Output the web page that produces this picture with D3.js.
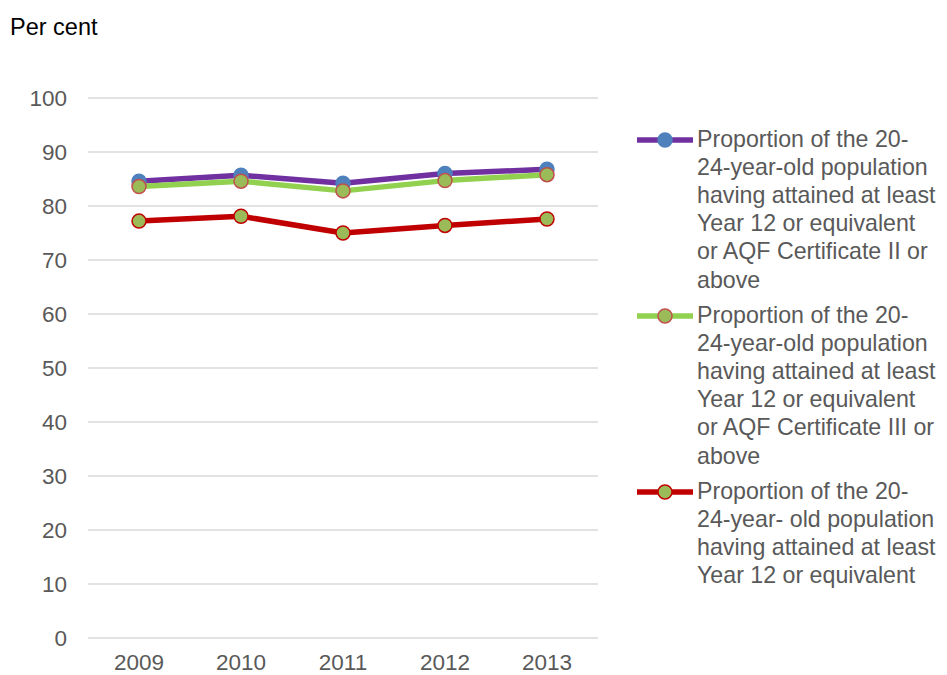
<!DOCTYPE html>
<html>
<head>
<meta charset="utf-8">
<script src="https://cdn.jsdelivr.net/npm/d3@7"></script>
<style>
	body { margin: 0; background: #fff; }
	text { font-family: "Liberation Sans", Arial, sans-serif; fill: #595959; }
</style>
</head>
<body>
<svg id="chart" width="947" height="675"></svg>
<script>
	"use strict";

	// data
	var years = ["2009", "2010", "2011", "2012", "2013"];
	var cert2_values = [84.6, 85.7, 84.2, 86.0, 86.8];
	var cert3_values = [83.6, 84.6, 82.8, 84.7, 85.8];
	var year12_values = [77.2, 78.1, 75.0, 76.4, 77.6];
	var y_ticks = [0, 10, 20, 30, 40, 50, 60, 70, 80, 90, 100];

	var series = [
		{ name: "Proportion of the 20-24-year-old population having attained at least Year 12 or equivalent or AQF Certificate II or above",
		  lines: ["Proportion of the 20-", "24-year-old population", "having attained at least", "Year 12 or equivalent", "or AQF Certificate II or", "above"],
		  values: cert2_values, line: "#7030A0", fill: "#4F81BD", stroke: "#4F81BD" },
		{ name: "Proportion of the 20-24-year-old population having attained at least Year 12 or equivalent or AQF Certificate III or above",
		  lines: ["Proportion of the 20-", "24-year-old population", "having attained at least", "Year 12 or equivalent", "or AQF Certificate III or", "above"],
		  values: cert3_values, line: "#92D050", fill: "#9BBB59", stroke: "#C0504D" },
		{ name: "Proportion of the 20-24-year- old population having attained at least Year 12 or equivalent",
		  lines: ["Proportion of the 20-", "24-year- old population", "having attained at least", "Year 12 or equivalent"],
		  values: year12_values, line: "#C00000", fill: "#9BBB59", stroke: "#C00000" }
	];

	var svg = d3.select("#chart");

	var x = d3.scaleBand().domain(years).range([88, 598]);
	var y = d3.scaleLinear().domain([0, 100]).range([638, 98]);

	svg.append("text").attr("x", 10).attr("y", 35)
		.attr("font-size", 23.5).style("fill", "#000").text("Per cent");

	// gridlines
	svg.append("g").selectAll("line").data(y_ticks).enter().append("line")
		.attr("x1", 88).attr("x2", 598)
		.attr("y1", function(d){ return y(d); })
		.attr("y2", function(d){ return y(d); })
		.attr("stroke", "#D9D9D9").attr("stroke-width", 1.3);

	// y axis labels
	var y_axis = svg.append("g").attr("transform", "translate(76,0)")
		.call(d3.axisLeft(y).tickValues(y_ticks).tickSize(0).tickPadding(9));
	y_axis.select(".domain").remove();
	y_axis.selectAll("text").attr("font-size", 22.5).attr("font-family", null).style("fill", "#595959");

	// x axis labels
	var x_axis = svg.append("g").attr("transform", "translate(0,670)")
		.call(d3.axisBottom(x).tickSize(0).tickPadding(0));
	x_axis.select(".domain").remove();
	x_axis.selectAll("text").attr("dy", 0).attr("font-size", 22.5).attr("font-family", null).style("fill", "#595959");

	var line_gen = d3.line()
		.x(function(d, i){ return x(years[i]) + x.bandwidth() / 2; })
		.y(function(d){ return y(d); });

	series.forEach(function(s){
		var g = svg.append("g");
		g.append("path").datum(s.values)
			.attr("d", line_gen)
			.attr("fill", "none")
			.attr("stroke", s.line)
			.attr("stroke-width", 5.5)
			.attr("stroke-linejoin", "round");
		g.selectAll("circle").data(s.values).enter().append("circle")
			.attr("cx", function(d, i){ return x(years[i]) + x.bandwidth() / 2; })
			.attr("cy", function(d){ return y(d); })
			.attr("r", 7)
			.attr("fill", s.fill)
			.attr("stroke", s.stroke)
			.attr("stroke-width", 1.5);
	});

	// legend
	var legend_top = [140, 316, 492];
	var line_h = 28.1;
	series.forEach(function(s, k){
		var ly = legend_top[k];
		var lg = svg.append("g").attr("class", "legend");
		lg.append("line")
			.attr("x1", 637).attr("x2", 693).attr("y1", ly).attr("y2", ly)
			.attr("stroke", s.line).attr("stroke-width", 5.5);
		lg.append("circle").attr("cx", 665).attr("cy", ly).attr("r", 7)
			.attr("fill", s.fill).attr("stroke", s.stroke).attr("stroke-width", 1.5);
		var t = lg.append("text").attr("x", 697).attr("y", ly + 7).attr("font-size", 23.2);
		s.lines.forEach(function(str, i){
			t.append("tspan").attr("x", 697).attr("dy", i === 0 ? 0 : line_h).text(str);
		});
	});
</script>
</body>
</html>
